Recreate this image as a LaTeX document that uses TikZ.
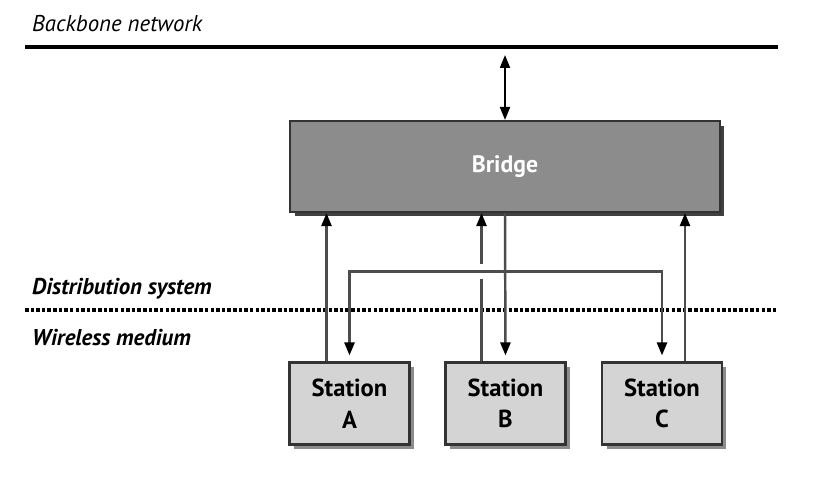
\documentclass[tikz,border=0pt]{standalone}
\usepackage{fontspec}
\setsansfont{PT Sans}
\usetikzlibrary{arrows.meta,shadows,calc}

\begin{document}
\begin{tikzpicture}
            [x=0.02cm, y=-0.02cm,
            font=\sffamily,
            >={Triangle[length=0.26cm,width=0.2cm,color=black]},
            bridge/.style = {draw=black!80, line width=1.2pt, fill=black!45,
                        minimum width=8.6cm, minimum height=1.82cm, text=white,
                        font=\sffamily\bfseries\fontsize{13.5}{16}\selectfont,
                        drop shadow={shadow xshift=0.09cm, shadow yshift=-0.09cm,
                                     fill=black!75, opacity=1}},
            station/.style = {draw=black!80, line width=1.2pt, fill=black!17,
                        minimum width=2.4cm, minimum height=1.64cm, align=center,
                        font=\sffamily\bfseries\fontsize{14}{18}\selectfont,
                        drop shadow={shadow xshift=0.09cm, shadow yshift=-0.09cm,
                                     fill=black!45, opacity=1}},
            conn/.style = {line width=1.4pt, draw=black!70, ->},
            lbl/.style = {anchor=west, font=\sffamily\itshape\fontsize{13}{15}\selectfont}]
            \useasboundingbox (0,0) rectangle (821,486);

            % Etiquetas
            \node[lbl] (backbone) at (26,24) {Backbone network};
            \node[lbl, font=\sffamily\bfseries\itshape\fontsize{13}{15}\selectfont]
                        (distsys) at (26,289) {Distribution system};
            \node[lbl, font=\sffamily\bfseries\itshape\fontsize{13}{15}\selectfont]
                        (wireless) at (26,338) {Wireless medium};

            % Cajas
            \node[bridge] (bridge) at (505,166.5) {Bridge};
            \node[station] (staA) at (349.5,403.5) {Station\\A};
            \node[station] (staB) at (505.5,403.5) {Station\\B};
            \node[station] (staC) at (662,403.5) {Station\\C};

            % Lineas
            \coordinate (bbL) at (25,47);
            \coordinate (bbR) at (778,47);
            \coordinate (bbtap) at (505,55);
            \coordinate (dsL) at (25,310);
            \coordinate (dsR) at (778,310);
            \coordinate (dsrow) at (0,271.5);
            \draw[line width=2.4pt] (bbL) -- (bbR);
            \draw[line width=2pt, dash pattern=on 2pt off 1.2pt] (dsL) -- (dsR);
            \draw[line width=1.2pt, <->] (bbtap) -- (bridge.north);

            % Flechas
            \coordinate (upA) at ([xshift=-0.46cm]staA.north);
            \coordinate (upB) at ([xshift=-0.48cm]staB.north);
            \coordinate (upC) at ([xshift=0.46cm]staC.north);
            \draw[conn] (upA) -- (upA |- bridge.south);
            \draw[conn] (upC) -- (upC |- bridge.south);
            \draw[conn] (upB) -- ($(upB |- dsrow)+(0,7)$)
                        ($(upB |- dsrow)+(0,-8)$) -- (upB |- bridge.south);
            \draw[conn, shorten >=0.12cm] (bridge.south) -- (staB.north);
            \draw[conn, <->, shorten <=0.12cm, shorten >=0.12cm]
                        (staA.north) -- (staA.north |- dsrow)
                        -- (staC.north |- dsrow) -- (staC.north);
        \end{tikzpicture}
\end{document}
